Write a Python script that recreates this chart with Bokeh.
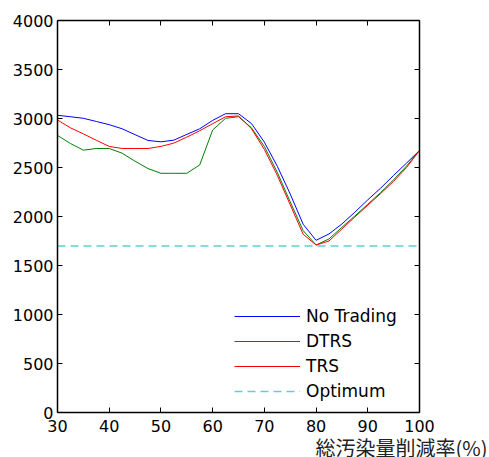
from bokeh.plotting import figure
from bokeh.models import Range1d, LinearAxis, Title, FixedTicker
from bokeh.embed import file_html
from bokeh.resources import INLINE

reduction = [30, 32.5, 35, 37.5, 40, 42.5, 45, 47.5, 50, 52.5, 55, 57.5, 60, 62.5, 65,
             67.5, 70, 72.5, 75, 77.5, 80, 82.5, 85, 87.5, 90, 92.5, 95, 97.5, 100]
no_trading = [3033, 3018, 3002, 2970, 2937, 2895, 2835, 2776, 2762, 2779, 2838, 2895, 2981, 3049, 3049,
              2949, 2759, 2513, 2230, 1921, 1757, 1822, 1924, 2044, 2170, 2290, 2420, 2545, 2674]
dtrs = [2827, 2745, 2677, 2694, 2694, 2646, 2564, 2489, 2441, 2441, 2441, 2526, 2882, 3002, 3018,
        2906, 2715, 2450, 2150, 1856, 1709, 1771, 1890, 2005, 2125, 2245, 2375, 2515, 2674]
trs = [2985, 2905, 2843, 2778, 2715, 2694, 2694, 2694, 2715, 2749, 2810, 2875, 2947, 3018, 3026,
       2897, 2684, 2420, 2120, 1819, 1709, 1750, 1873, 1995, 2115, 2235, 2360, 2500, 2674]
optimum = 1700
x_ticks = [30, 40, 50, 60, 70, 80, 90, 100]
y_ticks = [0, 500, 1000, 1500, 2000, 2500, 3000, 3500, 4000]
x_label = "総汚染量削減率(%)"

p = figure(width=489, height=457, output_backend="svg", toolbar_location=None,
           x_range=Range1d(30, 100), y_range=Range1d(0, 4000),
           min_border_left=57, min_border_right=70, min_border_top=20, min_border_bottom=0,
           x_axis_location=None, y_axis_location=None)
p.grid.visible = False
p.outline_line_color = None
p.background_fill_color = "white"
p.border_fill_color = "white"

FONT = "DejaVu Sans"

def mk_axis(show_labels, ticks):
    ax = LinearAxis(ticker=FixedTicker(ticks=ticks))
    ax.axis_line_color = "black"
    ax.axis_line_width = 1.5
    ax.major_tick_in = 5
    ax.major_tick_out = 0
    ax.major_tick_line_color = "black"
    ax.minor_tick_line_color = None
    ax.major_label_text_font = FONT
    ax.major_label_text_font_size = "16px"
    ax.major_label_text_color = "black"
    if not show_labels:
        ax.major_label_text_font_size = "0px"
        ax.major_label_text_alpha = 0
    return ax

bottom = mk_axis(True, x_ticks)
bottom.major_label_standoff = 7
left = mk_axis(True, y_ticks)
left.major_label_standoff = 4
top = mk_axis(False, x_ticks)
right = mk_axis(False, y_ticks)
p.add_layout(bottom, "below")
p.add_layout(left, "left")
p.add_layout(top, "above")
p.add_layout(right, "right")

p.line(reduction, no_trading, line_color="#0000ff", line_width=1, legend_label="No Trading")
p.line(reduction, dtrs, line_color="#008000", line_width=1, legend_label="DTRS")
p.line(reduction, trs, line_color="#ff0000", line_width=1, legend_label="TRS")
p.line([reduction[0], reduction[-1]], [optimum, optimum], line_color="#5fd0d0", line_width=1.5,
       line_dash="8 5", legend_label="Optimum")

lg = p.legend[0]
lg.location = (177, 11)
lg.padding = 0
lg.margin = 0
lg.spacing = 5
lg.border_line_alpha = 0
lg.background_fill_alpha = 0
lg.glyph_width = 66
lg.glyph_height = 20
lg.label_height = 20
lg.label_standoff = 6
lg.label_text_font = FONT
lg.label_text_font_size = "17px"
lg.label_text_color = "black"

t = Title(text=x_label, align="right", text_font="Noto Sans CJK JP", text_font_size="20px",
          text_font_style="normal", text_color="#222222", offset=-68, standoff=-8,
          text_line_height=0.8)
p.add_layout(t, "below")

open("out.html", "w").write(file_html(p, INLINE))
